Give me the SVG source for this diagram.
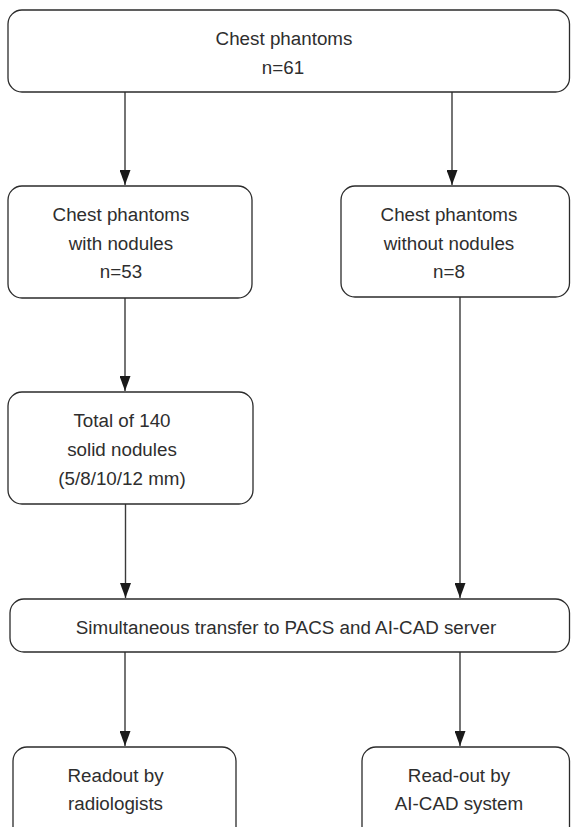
<svg xmlns="http://www.w3.org/2000/svg" width="571" height="827" viewBox="0 0 571 827">
  <style>
    .box { fill: #ffffff; stroke: #2b2b2b; stroke-width: 1.3; }
    .lbl { font-family: "Liberation Sans", Arial, sans-serif; font-size: 18.8px; fill: #2e2e2e; text-anchor: middle; }
    .edge { stroke: #3a3a3a; stroke-width: 1.4; fill: none; marker-end: url(#arrow); }
  </style>
  <defs>
    <marker id="arrow" viewBox="0 0 15 11" refX="15" refY="5.5" markerWidth="15" markerHeight="11" markerUnits="userSpaceOnUse" orient="auto">
      <path d="M0,0 L15,5.5 L0,11 Z" fill="#1a1a1a"/>
    </marker>
  </defs>
  <rect width="571" height="827" fill="#ffffff"/>

  <!-- connectors -->
  <g id="connectors">
    <line class="edge" x1="125" y1="92" x2="125" y2="185"/>
    <line class="edge" x1="452" y1="92" x2="452" y2="185"/>
    <line class="edge" x1="125" y1="298" x2="125" y2="391"/>
    <line class="edge" x1="125.5" y1="504" x2="125.5" y2="598"/>
    <line class="edge" x1="460" y1="297" x2="460" y2="598"/>
    <line class="edge" x1="125" y1="652" x2="125" y2="746"/>
    <line class="edge" x1="460" y1="652" x2="460" y2="746"/>
  </g>

  <!-- nodes -->
  <g id="all-phantoms">
    <rect class="box" x="8" y="10" width="561.5" height="82" rx="14"/>
    <text class="lbl" x="284" y="45">Chest phantoms</text>
    <text class="lbl" x="283" y="74">n=61</text>
  </g>

  <g id="with-nodules">
    <rect class="box" x="8" y="186" width="244" height="112" rx="14"/>
    <text class="lbl" x="121" y="221">Chest phantoms</text>
    <text class="lbl" x="121" y="250">with nodules</text>
    <text class="lbl" x="121" y="278">n=53</text>
  </g>

  <g id="without-nodules">
    <rect class="box" x="341" y="186" width="228.5" height="111" rx="14"/>
    <text class="lbl" x="449" y="221">Chest phantoms</text>
    <text class="lbl" x="449" y="250">without nodules</text>
    <text class="lbl" x="449" y="278">n=8</text>
  </g>

  <g id="solid-nodules">
    <rect class="box" x="8" y="392" width="245" height="112" rx="14"/>
    <text class="lbl" x="122" y="427">Total of 140</text>
    <text class="lbl" x="122" y="456">solid nodules</text>
    <text class="lbl" x="122" y="485">(5/8/10/12 mm)</text>
  </g>

  <g id="transfer">
    <rect class="box" x="10" y="599" width="559.5" height="53" rx="14"/>
    <text class="lbl" x="286" y="634">Simultaneous transfer to PACS and AI-CAD server</text>
  </g>

  <g id="radiologists">
    <rect class="box" x="13" y="747" width="223" height="100" rx="14"/>
    <text class="lbl" x="115.5" y="782">Readout by</text>
    <text class="lbl" x="115.5" y="810">radiologists</text>
  </g>

  <g id="ai-cad">
    <rect class="box" x="362" y="747" width="207.5" height="100" rx="14"/>
    <text class="lbl" x="459" y="782">Read-out by</text>
    <text class="lbl" x="459" y="810">AI-CAD system</text>
  </g>
</svg>
